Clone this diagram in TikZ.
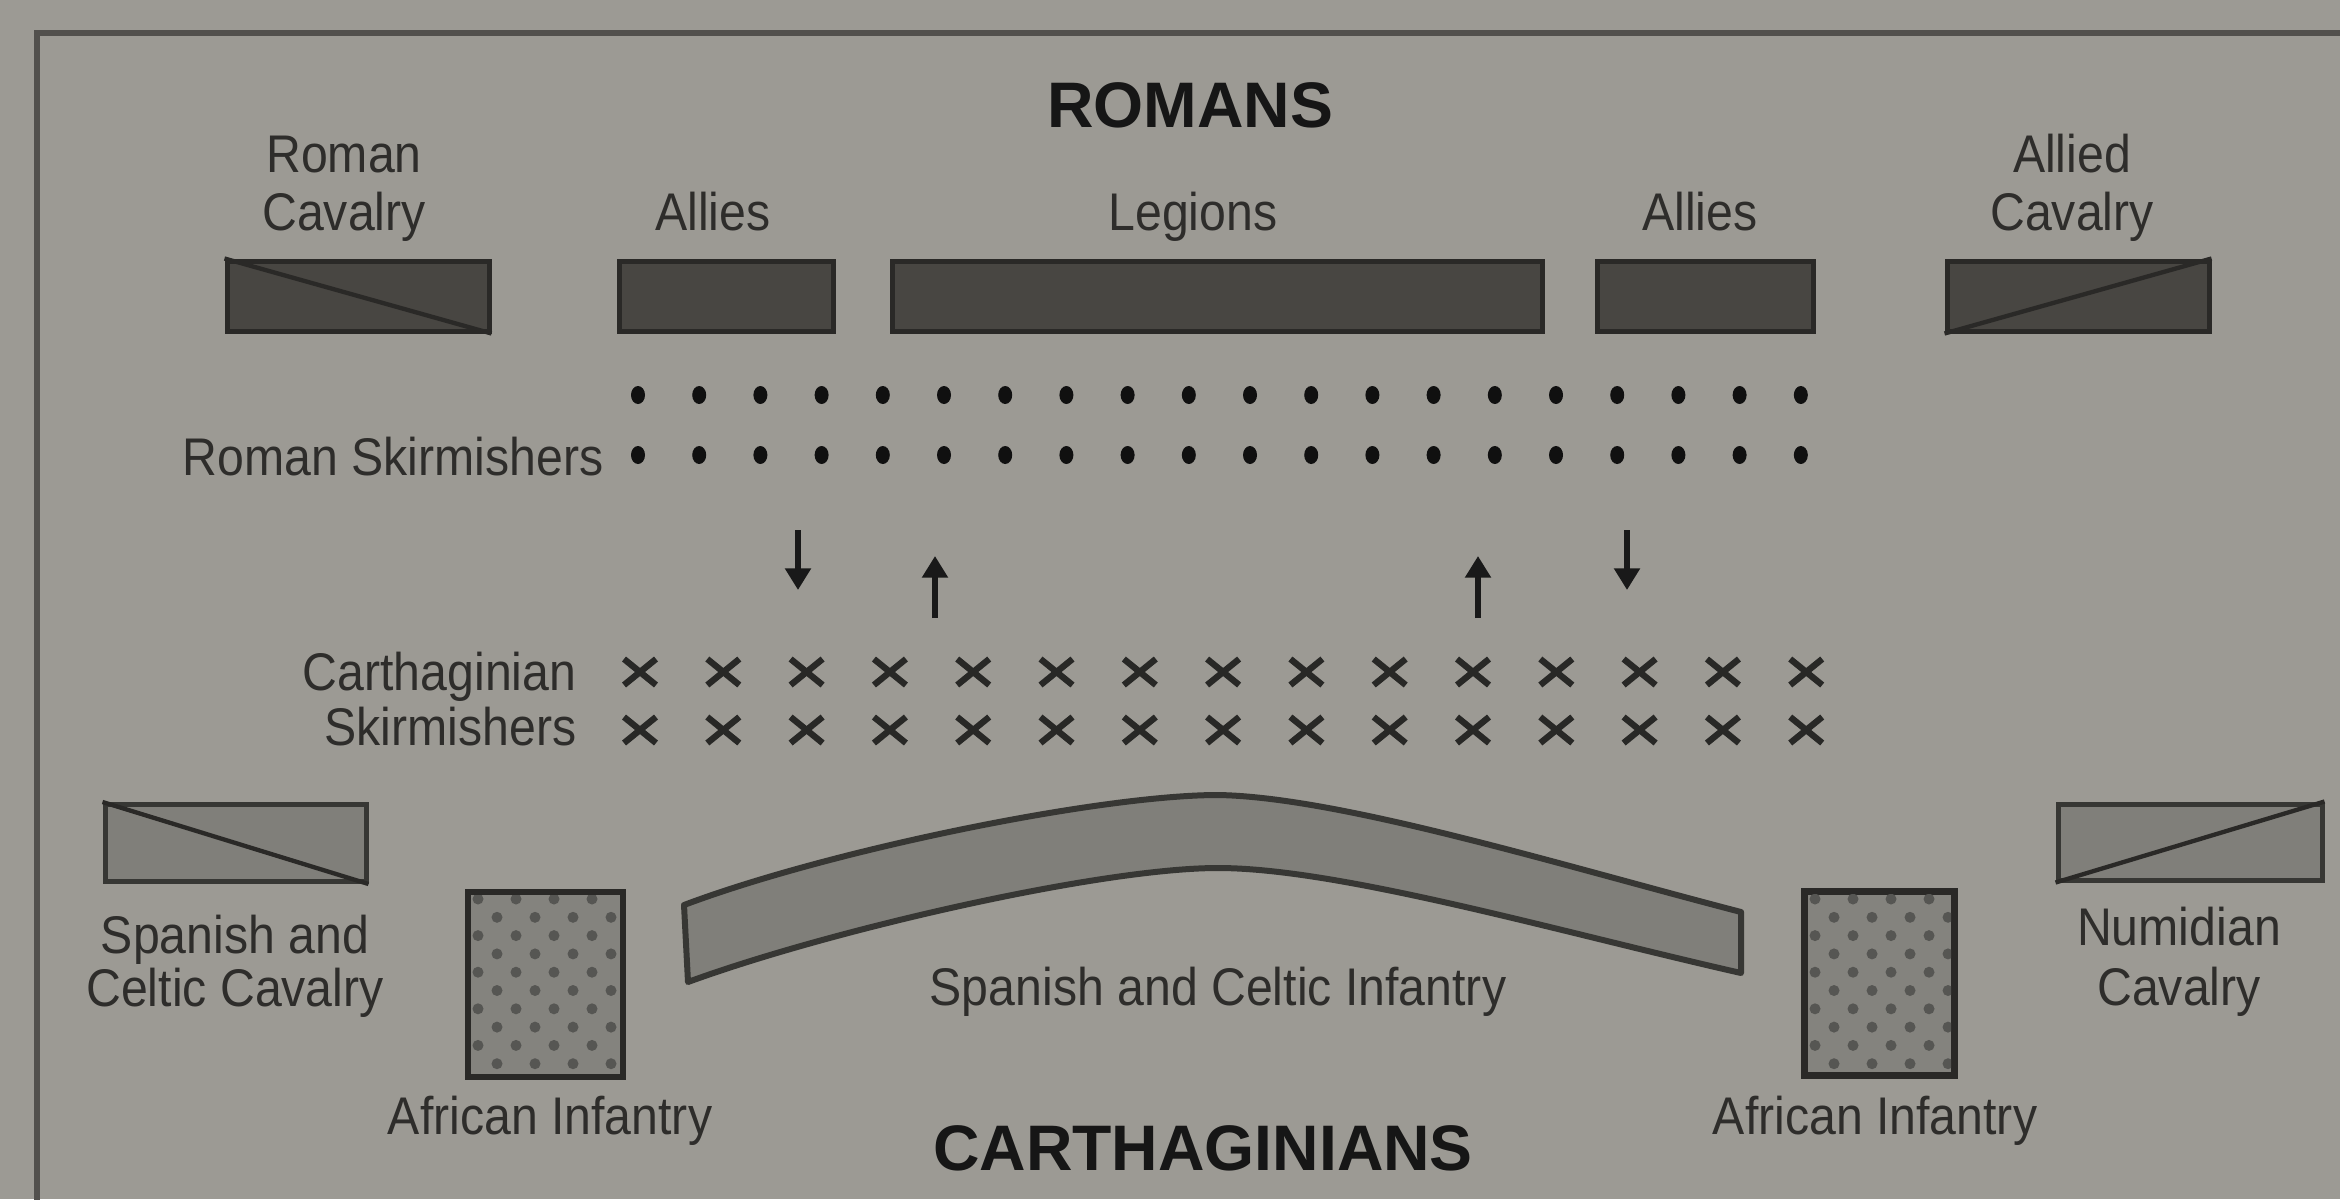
\documentclass[tikz,border=0pt]{standalone}
\usepackage{fontspec}
\setmainfont{Liberation Sans}
\newfontfamily\labfont[FakeStretch=0.91]{Liberation Sans}
\usetikzlibrary{arrows.meta}
\definecolor{bgc}{RGB}{156,154,148}
\definecolor{framec}{RGB}{82,80,77}
\definecolor{darkfill}{RGB}{72,70,66}
\definecolor{darkline}{RGB}{42,41,39}
\definecolor{midfill}{RGB}{128,127,122}
\definecolor{midline}{RGB}{55,55,52}
\definecolor{affill}{RGB}{132,131,126}
\definecolor{patc}{RGB}{86,86,83}
\definecolor{txt}{RGB}{46,45,43}
\definecolor{ttl}{RGB}{22,22,22}
\definecolor{dotc}{RGB}{16,16,16}
\definecolor{xc}{RGB}{40,40,38}
\tikzset{
  lab/.style={font=\labfont\fontsize{15.9pt}{17.4pt}\selectfont, text=txt, inner sep=0pt},
  ttlstyle/.style={font=\bfseries\fontsize{19.3pt}{22pt}\selectfont, text=ttl, inner sep=0pt},
  sz/.style 2 args={minimum width=#1*0.3pt, minimum height=#2*0.3pt},
  darkbox/.style={draw=darkline, fill=darkfill, line width=1.5pt, inner sep=0pt},
  midbox/.style={draw=midline, fill=midfill, line width=1.5pt, inner sep=0pt},
  afbox/.style={draw=darkline, fill=affill, line width=2pt, inner sep=0pt},
  diag/.style={draw=darkline, line width=1.3pt},
  xmark/.style={draw=xc, line width=1.9pt},
  arr/.style={draw=black!90, line width=1.6pt, -{Triangle[width=7.5pt,length=6.5pt]}},
  band/.style={draw=midline, fill=midfill, line width=1.8pt, line join=round}
}
\begin{document}
\begin{tikzpicture}[x=0.3pt,y=-0.3pt]
\useasboundingbox (0,0) rectangle (2340,1199);
\clip (0,0) rectangle (2340,1199);
\fill[bgc] (0,0) rectangle (2340,1199);
% frame
\draw[framec, line width=1.8pt] (2360,33) -- (37,33) -- (37,1220);

% titles
\node[ttlstyle, anchor=base] (romans) at (1190,127) {ROMANS};
\node[ttlstyle, anchor=base] (carth) at (1203,1170) {CARTHAGINIANS};

% top row labels
\node[lab, anchor=base] (rcavA) at (344,172) {Roman};
\node[lab, anchor=base] (rcavB) at (344,230) {Cavalry};
\node[lab, anchor=base] (alLlab) at (713,230) {Allies};
\node[lab, anchor=base] (leglab) at (1193,230) {Legions};
\node[lab, anchor=base] (alRlab) at (1700,230) {Allies};
\node[lab, anchor=base] (acavA) at (2072,172) {Allied};
\node[lab, anchor=base] (acavB) at (2072,230) {Cavalry};

% top row boxes
\node[darkbox, sz={262}{70}] (rcav) at (358,296) {};
\draw[diag] (rcav.north west) -- (rcav.south east);
\node[darkbox, sz={214}{70}] (alL) at (726,296) {};
\node[darkbox, sz={650}{70}] (leg) at (1217,296) {};
\node[darkbox, sz={216}{70}] (alR) at (1705,296) {};
\node[darkbox, sz={262}{70}] (acav) at (2078,296) {};
\draw[diag] (acav.south west) -- (acav.north east);

% Roman skirmishers
\node[lab, anchor=base east] (rsk) at (604,475) {Roman Skirmishers};
\foreach \i in {0,...,19}{
  \fill[dotc] ({638+\i*61.2},395) ellipse[x radius=7, y radius=9];
  \fill[dotc] ({638+\i*61.2},455) ellipse[x radius=7, y radius=9];
}

% arrows
\coordinate (d1s) at (798,530); \coordinate (d1e) at (798,590);
\coordinate (u1s) at (935,618); \coordinate (u1e) at (935,556);
\coordinate (u2s) at (1478,618); \coordinate (u2e) at (1478,556);
\coordinate (d2s) at (1627,530); \coordinate (d2e) at (1627,590);
\draw[arr] (d1s) -- (d1e);
\draw[arr] (u1s) -- (u1e);
\draw[arr] (u2s) -- (u2e);
\draw[arr] (d2s) -- (d2e);

% Carthaginian skirmishers
\node[lab, anchor=base east] (cskA) at (577,690) {Carthaginian};
\node[lab, anchor=base east] (cskB) at (577,745) {Skirmishers};
\foreach \i in {0,...,14}{
  \foreach \yy in {672,730}{
    \draw[xmark] ({640+\i*83.3-16},{\yy-13}) -- ({640+\i*83.3+16},{\yy+13});
    \draw[xmark] ({640+\i*83.3-16},{\yy+13}) -- ({640+\i*83.3+16},{\yy-13});
  }
}

% Carthaginian cavalry
\node[midbox, sz={261}{77}] (scav) at (235.5,843) {};
\draw[diag] (scav.north west) -- (scav.south east);
\node[lab, anchor=base] (scavA) at (235,953) {Spanish and};
\node[lab, anchor=base] (scavB) at (235,1006) {Celtic Cavalry};
\node[midbox, sz={264}{76}] (ncav) at (2190,842) {};
\draw[diag] (ncav.south west) -- (ncav.north east);
\node[lab, anchor=base] (ncavA) at (2179,945) {Numidian};
\node[lab, anchor=base] (ncavB) at (2179,1005) {Cavalry};

% African infantry
\node[afbox, sz={155}{185}] (afL) at (545.5,984.5) {};
\node[afbox, sz={150}{184}] (afR) at (1879.5,983.5) {};
\foreach \bx/\nm in {468/afL,1805/afR}{
  \begin{scope}
    \clip ([shift={(2pt,-2pt)}]\nm.north west) rectangle ([shift={(-2pt,2pt)}]\nm.south east);
    \foreach \r in {0,...,10}{
      \pgfmathsetmacro{\yy}{899+\r*18.3}
      \pgfmathsetmacro{\xo}{mod(\r,2)*19}
      \foreach \c in {0,...,4}{
        \fill[patc] ({\bx+10+\xo+\c*38},\yy) circle[radius=5.5];
      }
    }
  \end{scope}
}
\node[lab, anchor=base] (afLlab) at (550,1134) {African Infantry};
\node[lab, anchor=base] (afRlab) at (1875,1134) {African Infantry};

% Spanish and Celtic infantry crescent
\draw[band] (684,905) .. controls (830,850) and (1100,795) .. (1218,795)
  .. controls (1340,797) and (1560,865) .. (1741,912)
  -- (1741,973)
  .. controls (1560,932) and (1340,868) .. (1218,868)
  .. controls (1100,868) and (830,930) .. (688,982) -- cycle;
\node[lab, anchor=base] (scinf) at (1218,1005) {Spanish and Celtic Infantry};
\end{tikzpicture}
\end{document}
